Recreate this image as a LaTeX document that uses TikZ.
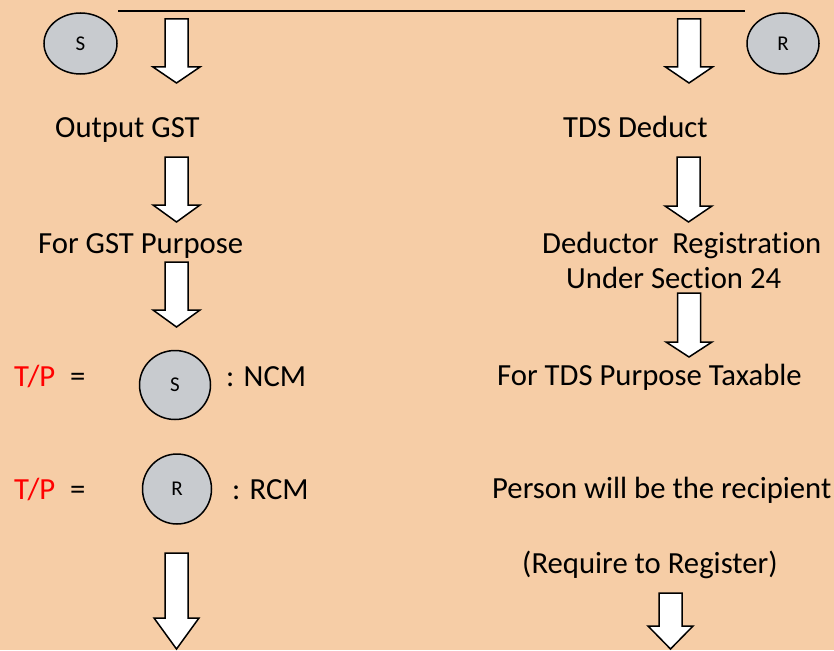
\documentclass[tikz,border=0pt]{standalone}
\usepackage{fontspec}
\setmainfont{Carlito}[Ligatures=NoCommon]
\usetikzlibrary{shapes.geometric}

\definecolor{peach}{HTML}{F6CDA6}
\definecolor{discgrey}{HTML}{C8CBCF}
\newcommand\tpcolor{\color{red}}

\tikzset{
  caption/.style={anchor=base west, inner sep=0pt, font=\fontsize{30.7}{36}\selectfont},
  party/.style={ellipse, draw, line width=1.5pt, fill=discgrey, inner sep=0pt,
    font=\fontsize{21}{25}\selectfont},
  pics/downarrow/.style n args={3}{code={
    \draw[line width=1.5pt, fill=white, line join=miter]
      (-11.5,0) -- (11.5,0) -- (11.5,#1) -- (#3,#1) -- (0,#2)
      -- (-#3,#1) -- (-11.5,#1) -- cycle;
  }}
}

\begin{document}
\begin{tikzpicture}[x=1pt, y=-1pt]

\fill[peach] (0,0) rectangle (834,650);
\useasboundingbox (0,0) rectangle (834,650);

% supplier and recipient
\node[party, minimum width=73, minimum height=61] (sTop) at (80.5,43.5) {S};
\node[party, minimum width=72, minimum height=61] (rTop) at (783,43.5) {R};
\coordinate (lineL) at (118,11);
\coordinate (lineR) at (745,11);
\draw[line width=1.5pt] (lineL) -- (lineR);

% GST side
\pic (arrA) at (176.5,19) {downarrow={48}{64}{23.5}};
\node[caption] (outGst) at (55,137) {Output GST};
\pic (arrB) at (176.5,157) {downarrow={48}{65}{23.5}};
\node[caption] (gstPurpose) at (38,253) {For GST Purpose};
\pic (arrC) at (176.5,262) {downarrow={48}{65}{23.5}};

\node[caption] (tpOne) at (14,386) {\tpcolor T/P};
\node[caption] (eqOne) at (70,386) {=};
\node[party, minimum width=71, minimum height=69] (sNcm) at (175,385) {S};
\node[caption] (ncm) at (226,386) {: NCM};

\node[caption] (tpTwo) at (14,499) {\tpcolor T/P};
\node[caption] (eqTwo) at (70,499) {=};
\node[party, minimum width=69, minimum height=70] (rRcm) at (177,489) {R};
\node[caption] (rcm) at (232,499) {: RCM};

\pic (arrD) at (176.5,553) {downarrow={65}{96}{22.5}};

% TDS side
\pic (arrE) at (689,19) {downarrow={48}{64}{23.5}};
\node[caption] (tdsDeduct) at (563,137) {TDS Deduct};
\pic (arrF) at (688.5,157) {downarrow={49}{65}{23.5}};
\node[caption] (deductor) at (542,253) {Deductor\ \ Registration};
\node[caption] (section) at (566,288) {Under Section 24};
\pic (arrG) at (689,293) {downarrow={49}{64}{23}};
\node[caption] (tdsPurpose) at (497,385) {For TDS Purpose Taxable};
\node[caption] (person) at (492,498) {Person will be the recipient};
\node[caption] (register) at (522,573) {(Require to Register)};
\pic (arrH) at (670.5,593) {downarrow={33}{56}{22.5}};

\end{tikzpicture}
\end{document}
